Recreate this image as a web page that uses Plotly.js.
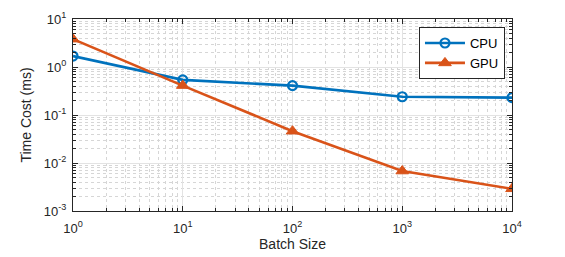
<!DOCTYPE html>
<html>
<head>
<meta charset="utf-8">
<script src="https://cdn.plot.ly/plotly-3.0.1.min.js"></script>
<style>html,body{margin:0;padding:0;background:#fff;}#chart{width:565px;height:257px;}</style>
</head>
<body>
<div id="chart"></div>
<script>
const batchSizes = [1, 10, 100, 1000, 10000];
const cpuTime = [1.69, 0.54, 0.41, 0.24, 0.23];
const gpuTime = [3.8, 0.41, 0.046, 0.0068, 0.0029];
const xTickVals = [1, 10, 100, 1000, 10000];
const xTickText = ['10<sup>0</sup>', '10<sup>1</sup>', '10<sup>2</sup>', '10<sup>3</sup>', '10<sup>4</sup>'];
const yTickVals = [0.001, 0.01, 0.1, 1, 10];
const yTickText = ['10<sup>-3</sup>', '10<sup>-2</sup>', '10<sup>-1</sup>', '10<sup>0</sup>', '10<sup>1</sup>'];

const FONT = 'Liberation Sans, Arial, sans-serif';
const axisCommon = {
  type: 'log',
  showline: true, mirror: 'ticks', linecolor: '#262626', linewidth: 1,
  ticks: 'inside', ticklen: 5, tickcolor: '#262626',
  showgrid: true, gridcolor: '#e3e3e3', gridwidth: 1,
  zeroline: false,
  tickfont: {family: FONT, size: 13, color: '#262626'},
  minor: {dtick: 'D1', ticks: 'inside', ticklen: 3, tickcolor: '#262626', showgrid: true, gridcolor: '#d6d6d6', griddash: 'dot', gridwidth: 1}
};

const traces = [
  {x: batchSizes, y: cpuTime, name: 'CPU', type: 'scatter', mode: 'lines+markers',
   line: {color: '#0072BD', width: 2.6},
   marker: {symbol: 'circle-open', size: 9, color: '#0072BD', line: {width: 2.2, color: '#0072BD'}}},
  {x: batchSizes, y: gpuTime, name: 'GPU', type: 'scatter', mode: 'lines+markers',
   line: {color: '#D95319', width: 2.6},
   marker: {symbol: 'triangle-up', size: 11, color: '#D95319', line: {width: 1, color: '#D95319'}}}
];

const layout = {
  width: 565, height: 257,
  margin: {l: 73, r: 53, t: 19, b: 46},
  paper_bgcolor: '#fff', plot_bgcolor: '#fff',
  showlegend: true,
  legend: {x: 0.984, y: 0.958, xanchor: 'right', yanchor: 'top',
    bgcolor: '#fff', bordercolor: '#262626', borderwidth: 1,
    itemwidth: 40, tracegroupgap: 0,
    font: {family: FONT, size: 13, color: '#000'}},
  xaxis: Object.assign({}, axisCommon, {
    range: [0, 4], tickmode: 'array', tickvals: xTickVals, ticktext: xTickText,
    ticklabelstandoff: 5,
    title: {text: 'Batch Size', font: {family: FONT, size: 14, color: '#262626'}, standoff: 3}
  }),
  yaxis: Object.assign({}, axisCommon, {
    range: [-3, 1], tickmode: 'array', tickvals: yTickVals, ticktext: yTickText,
    ticklabelstandoff: 3,
    title: {text: 'Time Cost (ms)', font: {family: FONT, size: 14, color: '#262626'}, standoff: 8}
  })
};

Plotly.newPlot('chart', traces, layout, {displayModeBar: false, staticPlot: true});
</script>
</body>
</html>
